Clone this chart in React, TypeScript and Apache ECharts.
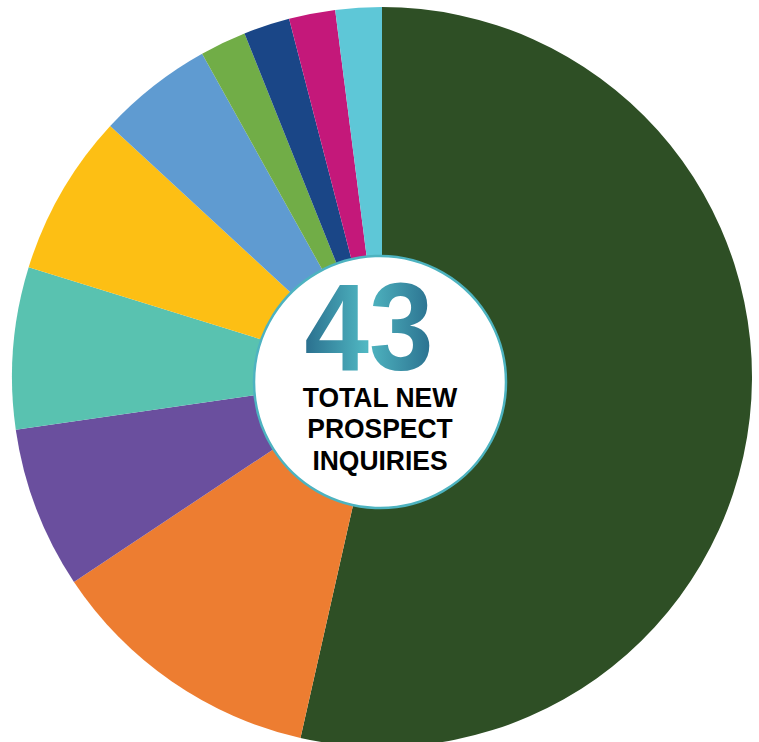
import React, { useEffect, useRef } from "react";
import * as echarts from "echarts";

const categories = ["A", "B", "C", "D", "E", "F", "G", "H", "I", "J"];
const values = [53, 12, 7, 7, 7, 5, 2, 2, 2, 2];
const colors = ["#2E4F25", "#ED7D31", "#6A4F9E", "#59C2B0", "#FDBF14", "#5F9BD1", "#71AD47", "#1A4687", "#C4187A", "#5EC7D7"];
const totalLabel = "43";
const subLines = ["TOTAL NEW", "PROSPECT", "INQUIRIES"];

export default function App() {
  const ref = useRef<HTMLDivElement>(null);
  useEffect(() => {
    if (!ref.current) return;
    const chart = echarts.init(ref.current, null, { renderer: "svg" });
    chart.setOption({
      animation: false,
      backgroundColor: "#ffffff",
      series: [
        {
          type: "pie",
          center: [382, 377],
          radius: [0, 370],
          startAngle: 90,
          clockwise: true,
          label: { show: false },
          labelLine: { show: false },
          emphasis: { disabled: true },
          itemStyle: { borderWidth: 0 },
          data: categories.map((c, i) => ({ name: c, value: values[i], itemStyle: { color: colors[i] } })),
        },
      ],
      graphic: [
        {
          type: "circle",
          shape: { cx: 380, cy: 382, r: 126 },
          style: { fill: "#ffffff", stroke: "#4DB3C0", lineWidth: 2.5 },
          z: 10,
        },
        {
          type: "text",
          x: 369,
          y: 327,
          scaleX: 0.935,
          z: 11,
          style: {
            text: totalLabel,
            font: "bold 124px 'Liberation Sans', Arial, sans-serif",
            align: "center",
            verticalAlign: "middle",
            fill: "#3FA0B3",
          },
        },
        ...subLines.map((t, i) => ({
          type: "text",
          x: 380,
          y: 397 + i * 31.5,
          scaleX: 0.945,
          z: 11,
          style: {
            text: t,
            font: "bold 28px 'Liberation Sans', Arial, sans-serif",
            align: "center",
            verticalAlign: "middle",
            fill: "#000000",
          },
        })),
      ],
    });
    // apply a horizontal gradient to the big number (ECharts text has no gradient fill)
    const svg = ref.current.querySelector("svg");
    if (svg) {
      const ns = "http://www.w3.org/2000/svg";
      let defs = svg.querySelector("defs");
      if (!defs) {
        defs = document.createElementNS(ns, "defs");
        svg.insertBefore(defs, svg.firstChild);
      }
      const grad = document.createElementNS(ns, "linearGradient");
      grad.setAttribute("id", "grad43");
      grad.setAttribute("x1", "0");
      grad.setAttribute("y1", "0");
      grad.setAttribute("x2", "1");
      grad.setAttribute("y2", "0");
      [
        ["0", "#2A6F8E"],
        ["0.48", "#50B7C2"],
        ["1", "#2A6F8E"],
      ].forEach(([o, c]) => {
        const s = document.createElementNS(ns, "stop");
        s.setAttribute("offset", o);
        s.setAttribute("stop-color", c);
        grad.appendChild(s);
      });
      defs.appendChild(grad);
      svg.querySelectorAll("text").forEach((t) => {
        if (t.textContent === totalLabel) t.setAttribute("fill", "url(#grad43)");
      });
    }
    return () => chart.dispose();
  }, []);
  return <div ref={ref} style={{ position: "fixed", left: 0, top: 0, width: 759, height: 742 }} />;
}
